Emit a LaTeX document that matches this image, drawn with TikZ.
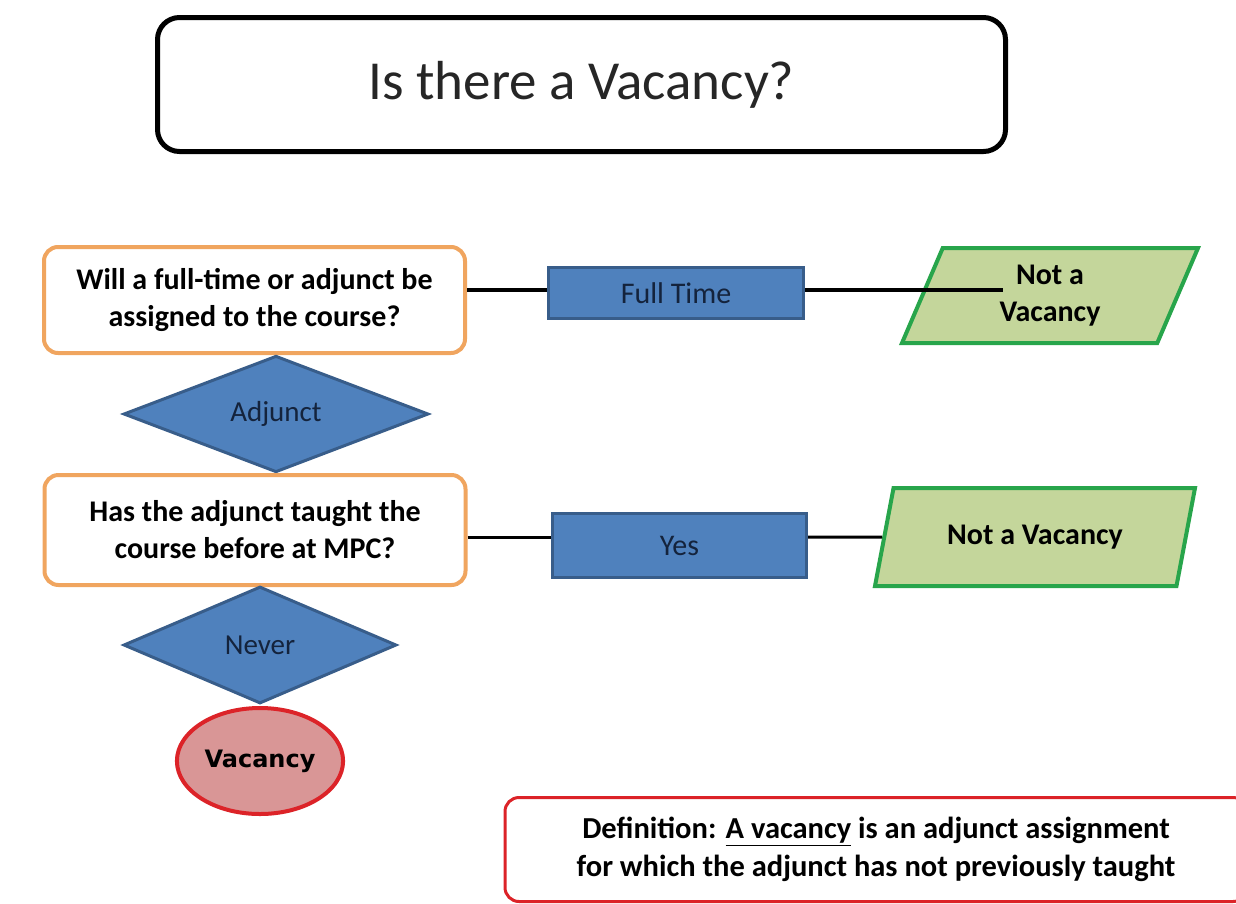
\documentclass[tikz,border=0pt]{standalone}
\usepackage{fontspec}
\setmainfont{Carlito}
\newfontfamily\vacfont{DejaVu Sans}
\usetikzlibrary{shapes.geometric}
\definecolor{qorange}{RGB}{240,165,95}
\definecolor{boxblue}{RGB}{79,129,189}
\definecolor{boxbluedark}{RGB}{56,93,138}
\definecolor{textnavy}{RGB}{20,35,60}
\definecolor{nvgreen}{RGB}{196,214,155}
\definecolor{nvgreendark}{RGB}{40,165,75}
\definecolor{vacfill}{RGB}{217,150,150}
\definecolor{vacred}{RGB}{220,35,40}

\begin{document}
\begin{tikzpicture}[x=1pt,y=-1pt,
    titlebox/.style={draw=black,line width=5pt,rounded corners=22pt,fill=white,
        minimum width=848pt,minimum height=134pt,text=black!85,
        font=\fontsize{55pt}{62pt}\selectfont},
    question/.style={draw=qorange,line width=4pt,rounded corners=14pt,fill=white,
        minimum width=421pt,minimum height=106pt,align=center,
        font=\bfseries\fontsize{30pt}{37pt}\selectfont},
    answer/.style={draw=boxbluedark,line width=3pt,fill=boxblue,text=textnavy,
        minimum width=255pt,minimum height=51pt,
        font=\fontsize{30pt}{36pt}\selectfont},
    choice/.style={diamond,draw=boxbluedark,line width=3pt,fill=boxblue,text=textnavy,
        inner sep=0pt,font=\fontsize{29pt}{35pt}\selectfont},
    outcome/.style={trapezium,trapezium left angle=59,trapezium right angle=121,
        trapezium stretches body,draw=nvgreendark,line width=4pt,fill=nvgreen,
        minimum width=296pt,minimum height=95pt,align=center,
        font=\bfseries\fontsize{30pt}{37pt}\selectfont},
    endpoint/.style={ellipse,draw=vacred,line width=4pt,fill=vacfill,
        minimum width=166pt,minimum height=106pt,
        font=\vacfont\bfseries\fontsize{24pt}{29pt}\selectfont},
    defbox/.style={draw=vacred,line width=3pt,rounded corners=14pt,fill=white,
        minimum width=742pt,minimum height=104pt,align=center,
        font=\bfseries\fontsize{30.5pt}{38pt}\selectfont},
    link/.style={draw=black,line width=4pt}]

    \useasboundingbox (0,0) rectangle (1236,903);
    \clip (0,0) rectangle (1236,903);

    \node[titlebox] (title) at (581.5,84.5) {Is there a Vacancy?};

    % first question
    \node[question] (q1) at (254.5,300) {Will a full-time or adjunct be\\assigned to the course?};
    \node[answer] (fulltime) at (676,293) {Full Time};
    \node[outcome] (notvac1) at (1050,295.5) {Not a\\Vacancy};
    \coordinate (stub1) at (1003,290);
    \coordinate (ftline) at ([yshift=3pt]fulltime.west);
    \draw[link] (q1.east |- ftline) -- (ftline);
    \draw[link] ([yshift=3pt]fulltime.east) -- (stub1);

    \node[choice,minimum width=305pt,minimum height=109pt] (adjunct) at (276,414) {Adjunct};

    % second question
    \node[question,minimum height=110pt] (q2) at (255,530) {Has the adjunct taught the\\course before at MPC?};
    \node[answer,minimum width=254pt,minimum height=64pt] (yes) at (679.5,545.5) {Yes};
    \node[outcome,minimum width=320pt,minimum height=98pt] (notvac2) at (1035,537) {Not a Vacancy};
    \coordinate (yesline) at ([yshift=8.5pt]yes.west);
    \draw[link,line width=3pt] (q2.east |- yesline) -- (yesline);
    \draw[link,line width=3pt] ([yshift=8.5pt]yes.east) -- (notvac2.west);

    \node[choice,minimum width=273pt,minimum height=117pt] (never) at (260,645) {Never};
    \node[endpoint] (vacancy) at (260,761) {Vacancy};

    \node[defbox] (defn) at (876,849.5) {Definition: \underline{A vacancy} is an adjunct assignment\\for which the adjunct has not previously taught};
\end{tikzpicture}
\end{document}
